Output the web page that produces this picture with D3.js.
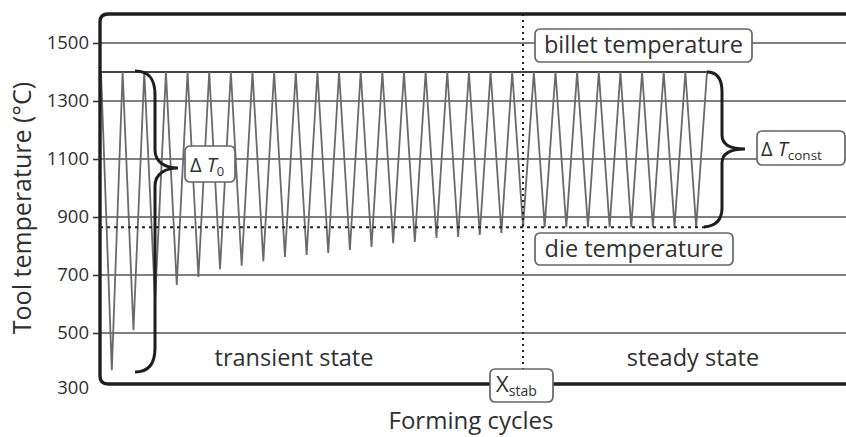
<!DOCTYPE html>
<html><head><meta charset="utf-8">
<script src="https://cdn.jsdelivr.net/npm/d3@7"></script>
<style>
html,body{margin:0;padding:0;background:#fff;}
text{font-family:"Open Sans","Noto Sans",sans-serif;fill:#303030;}
</style></head>
<body><svg id="c" width="846" height="437"></svg>
<script>
// ---- data ----
const yTicks = [300, 500, 700, 900, 1100, 1300, 1500];
const gridTemps = [500, 700, 900, 1100, 1300, 1500];
// tool temperature at the end of each heating (peak) half-cycle
const peakTemps = [1400,1400,1400,1400,1400,1400,1400,1400,1400,1400,
                   1400,1400,1400,1400,1400,1400,1400,1400,1400,1400,
                   1400,1400,1400,1400,1400,1400,1400,1400,1400];
// tool temperature at the end of each cooling (trough) half-cycle
const troughTemps = [372,510,610,666,693,720,732,748,762,769,
                     776,786,797,810,814,828,831,838,845,
                     865,865,865,865,865,865,865,865,865];
const billetTemp = 1400;
const dieTemp = 865;
const xStab = 39;           // half-cycle index where steady state starts
const nHalf = 56;           // number of half-cycles drawn

(function(){
const pts = [];
for (let i = 0; i < peakTemps.length; i++) {
  pts.push({k: 2*i, t: peakTemps[i]});
  if (i < troughTemps.length) pts.push({k: 2*i+1, t: troughTemps[i]});
}

const svg = d3.select("#c");
const x = d3.scaleLinear().domain([0, nHalf]).range([101, 707]);
const y = d3.scaleLinear().domain([500, 1500]).range([333, 43]);
const L = 100, T = 14, B = 384, R = 846;

// gridlines
svg.append("g").selectAll("line").data(gridTemps).join("line")
  .attr("x1", L).attr("x2", R)
  .attr("y1", d => y(d)).attr("y2", d => y(d))
  .attr("stroke", "#555").attr("stroke-width", 1.7);

// billet temperature line
svg.append("line").attr("x1", L).attr("x2", x(nHalf))
  .attr("y1", y(billetTemp)).attr("y2", y(billetTemp))
  .attr("stroke", "#444").attr("stroke-width", 1.8);

// sawtooth
svg.append("path").datum(pts)
  .attr("d", d3.line().x(d => x(d.k)).y(d => y(d.t)))
  .attr("fill", "none").attr("stroke", "#6a6a6a").attr("stroke-width", 1.8)
  .attr("stroke-linejoin", "miter");

// die temperature dotted line
svg.append("line").attr("x1", L).attr("x2", x(nHalf))
  .attr("y1", y(dieTemp)).attr("y2", y(dieTemp))
  .attr("stroke", "#222").attr("stroke-width", 2).attr("stroke-dasharray", "3,4");

// X stab vertical dotted line
svg.append("line").attr("x1", x(xStab)).attr("x2", x(xStab))
  .attr("y1", T).attr("y2", 370)
  .attr("stroke", "#222").attr("stroke-width", 2).attr("stroke-dasharray", "2,4");

// frame
svg.append("path")
  .attr("d", `M${R+5},${T} L${L+8},${T} Q${L},${T} ${L},${T+8} L${L},${B-8} Q${L},${B} ${L+8},${B} L${R+5},${B}`)
  .attr("fill", "none").attr("stroke", "#1e1e1e").attr("stroke-width", 3.4);

// y axis
const ax = svg.append("g").attr("transform", `translate(${L},0)`)
  .call(d3.axisLeft(y).tickValues(yTicks).tickSize(7).tickPadding(4).tickFormat(d3.format("d")));
ax.select(".domain").remove();
ax.selectAll(".tick line").attr("stroke", "#333").attr("stroke-width", 1.6)
  .filter(d => d === 300).remove();
ax.selectAll(".tick text").attr("font-size", 18.5).attr("fill", "#333")
  .attr("font-family", "Open Sans, sans-serif");
ax.selectAll(".tick").filter(d => d === 300).attr("transform", `translate(0,${y(300)-3})`);

// braces
svg.append("path")
  .attr("d", "M135,71 C150,71 155,80 155,95 L155,150 C155,162 165,168 178,168 C165,168 155,174 155,186 L155,348 C155,364 148,372 135,372")
  .attr("fill", "none").attr("stroke", "#1e1e1e").attr("stroke-width", 3);
svg.append("path")
  .attr("d", "M707,72 C718,72 722,80 722,92 L722,135 C722,144 730,149 745,149 C730,149 722,154 722,163 L722,208 C722,220 716,226 704,227")
  .attr("fill", "none").attr("stroke", "#1e1e1e").attr("stroke-width", 3);

// label boxes
function box(x0, y0, w, h) {
  svg.append("rect").attr("x", x0).attr("y", y0).attr("width", w).attr("height", h)
    .attr("rx", 5).attr("fill", "#fff").attr("stroke", "#666").attr("stroke-width", 1.7);
}
box(185, 146, 50, 36);
let t = svg.append("text").attr("x", 190).attr("y", 172).attr("font-size", 20);
t.append("tspan").text("Δ ");
t.append("tspan").attr("font-style", "italic").text("T");
t.append("tspan").attr("font-size", 13).attr("dy", 4).text("0");

box(757, 131, 88, 34);
t = svg.append("text").attr("x", 761).attr("y", 156).attr("font-size", 20);
t.append("tspan").text("Δ ");
t.append("tspan").attr("font-style", "italic").text("T");
t.append("tspan").attr("font-size", 13.5).attr("dy", 4).text("const");

box(535, 29, 217, 33);
svg.append("text").attr("x", 643.5).attr("y", 53).attr("text-anchor", "middle")
  .attr("font-size", 23.5).text("billet temperature");

box(535, 233, 198, 32);
svg.append("text").attr("x", 634).attr("y", 257).attr("text-anchor", "middle")
  .attr("font-size", 23.5).text("die temperature");

box(490, 369, 63, 33);
t = svg.append("text").attr("x", 496).attr("y", 392).attr("font-size", 22);
t.append("tspan").text("X");
t.append("tspan").attr("font-size", 14).attr("dy", 4).text("stab");

// region labels
svg.append("text").attr("x", 294).attr("y", 366).attr("text-anchor", "middle")
  .attr("font-size", 23.5).text("transient state");
svg.append("text").attr("x", 693).attr("y", 366).attr("text-anchor", "middle")
  .attr("font-size", 23.5).text("steady state");

// axis titles
svg.append("text").attr("x", 471).attr("y", 429).attr("text-anchor", "middle")
  .attr("font-size", 24).text("Forming cycles");
svg.append("text").attr("transform", "translate(31,208) rotate(-90)")
  .attr("text-anchor", "middle").attr("font-size", 25).text("Tool temperature (°C)");
})();
</script></body></html>
